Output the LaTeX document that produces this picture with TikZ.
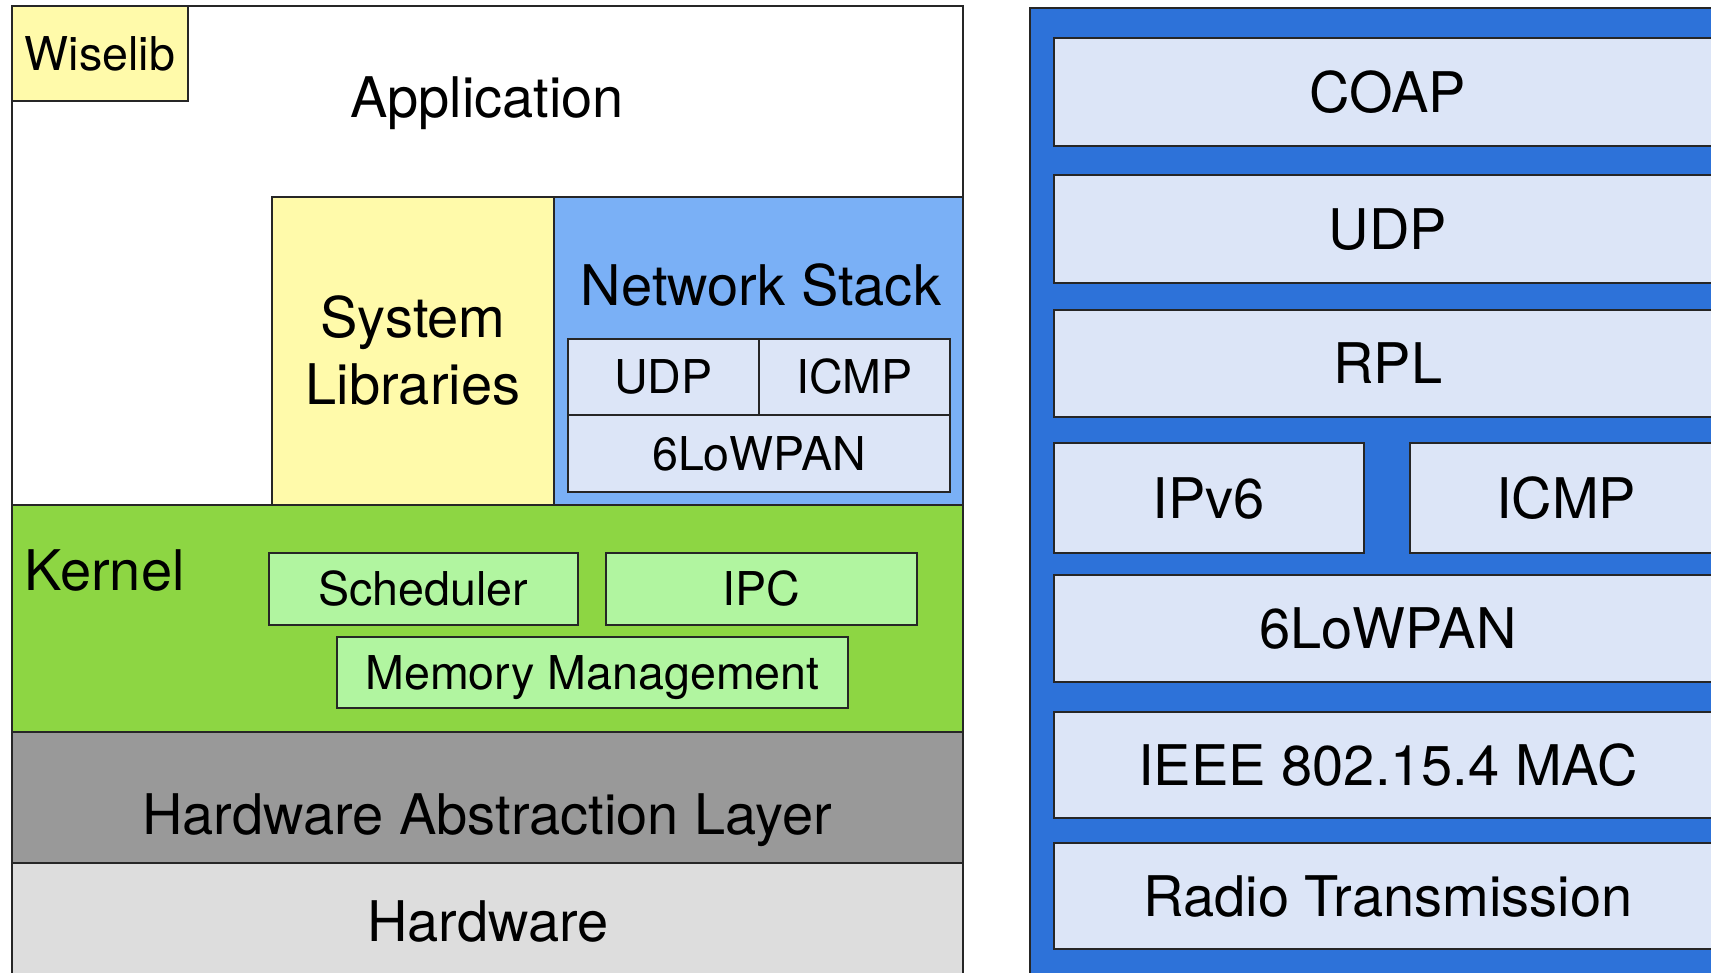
\documentclass[tikz,border=0pt]{standalone}
\usepackage{fontspec}
\setmainfont{TeX Gyre Heros}

\definecolor{libyellow}{RGB}{255,250,170}
\definecolor{netblue}{RGB}{122,176,246}
\definecolor{paleblue}{RGB}{220,229,247}
\definecolor{kerngreen}{RGB}{141,214,67}
\definecolor{palegreen}{RGB}{177,245,160}
\definecolor{halgray}{RGB}{153,153,153}
\definecolor{hwgray}{RGB}{221,221,221}
\definecolor{stackblue}{RGB}{45,114,217}

\tikzset{
  lay/.style={draw=black!85, line width=1.1pt, rectangle, inner sep=0pt, outer sep=0pt, anchor=north west},
  big/.style={font=\fontsize{28}{33.5}\selectfont},
  small/.style={font=\fontsize{23.3}{28}\selectfont},
  capbig/.style={big, inner sep=0pt, text height=20.2pt, text depth=0pt},
  capsmall/.style={small, inner sep=0pt, text height=16.8pt, text depth=0pt},
}

\begin{document}
\begin{tikzpicture}[x=0.5pt,y=-0.5pt]
\useasboundingbox (0,0) rectangle (1711,973);
\clip (0,0) rectangle (1711,973);

% left side: os layers
\node[lay, fill=white, minimum width=475.5pt, minimum height=249.5pt] (app) at (12,6) {};
\node[lay, fill=kerngreen, minimum width=475.5pt, minimum height=113.5pt] (kern) at (12,505) {};
\node[lay, fill=halgray, minimum width=475.5pt, minimum height=65.5pt] (hal) at (12,732) {};
\node[lay, fill=hwgray, minimum width=475.5pt, minimum height=63.5pt] (hw) at (12,863) {};

\node[lay, fill=libyellow, capsmall, minimum width=88pt, minimum height=47.5pt] (wise) at (12,6) {Wiselib};
\node[lay, fill=libyellow, big, align=center, minimum width=141pt, minimum height=154pt] (syslib) at (272,197) {System\\Libraries};
\node[lay, fill=netblue, minimum width=204.5pt, minimum height=154pt] (net) at (554,197) {};

\node[lay, fill=paleblue, capsmall, minimum width=95.5pt, minimum height=38pt] (nudp) at (568,339) {UDP};
\node[lay, fill=paleblue, capsmall, minimum width=95.5pt, minimum height=38pt] (nicmp) at (759,339) {ICMP};
\node[lay, fill=paleblue, capsmall, minimum width=191pt, minimum height=38.5pt] (nlow) at (568,415) {6LoWPAN};

\node[lay, fill=palegreen, capsmall, minimum width=154.5pt, minimum height=36pt] (sched) at (269,553) {Scheduler};
\node[lay, fill=palegreen, capsmall, minimum width=155.5pt, minimum height=36pt] (ipc) at (606,553) {IPC};
\node[lay, fill=palegreen, capsmall, minimum width=255.5pt, minimum height=35.5pt] (mem) at (337,637) {Memory Management};

\node[capbig] (apptext) at (487,97.5) {Application};
\node[capbig] (nettext) at (761,285) {Network Stack};
\node[capbig, anchor=west] (kerntext) at (24,570) {Kernel};
\node[capbig] (haltext) at (487,814) {Hardware Abstraction Layer};
\node[capbig] (hwtext) at (488,921) {Hardware};

% right side: protocol stack
\node[lay, fill=stackblue, minimum width=365pt, minimum height=501pt] (stack) at (1030,8) {};
\node[lay, fill=paleblue, capbig, minimum width=334pt, minimum height=54pt] (coap) at (1054,38) {COAP};
\node[lay, fill=paleblue, capbig, minimum width=334pt, minimum height=54pt] (rudp) at (1054,175) {UDP};
\node[lay, fill=paleblue, capbig, minimum width=334pt, minimum height=53.5pt] (rpl) at (1054,310) {RPL};
\node[lay, fill=paleblue, capbig, minimum width=155pt, minimum height=55pt] (ipv6) at (1054,443) {IPv6};
\node[lay, fill=paleblue, capbig, minimum width=156pt, minimum height=55pt] (ricmp) at (1410,443) {ICMP};
\node[lay, fill=paleblue, capbig, minimum width=334pt, minimum height=53.5pt] (rlow) at (1054,575) {6LoWPAN};
\node[lay, fill=paleblue, capbig, minimum width=334pt, minimum height=53pt] (mac) at (1054,712) {IEEE 802.15.4 MAC};
\node[lay, fill=paleblue, capbig, minimum width=334pt, minimum height=53pt] (radio) at (1054,843) {Radio Transmission};
\end{tikzpicture}
\end{document}
